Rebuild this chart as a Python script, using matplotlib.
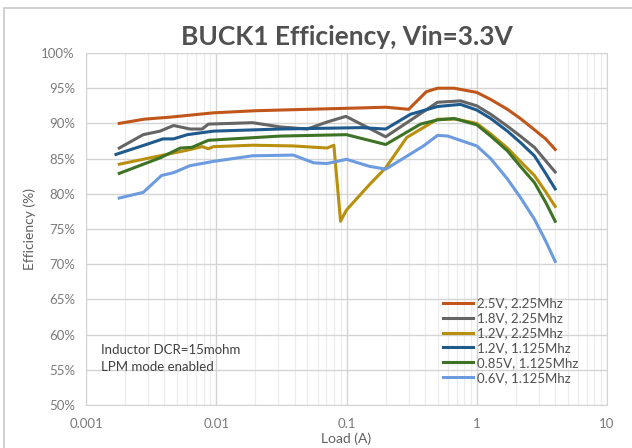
import numpy as np
import matplotlib.pyplot as plt
from matplotlib.patches import Rectangle
from matplotlib.ticker import FixedLocator, FuncFormatter, NullFormatter

plt.rcParams['font.family'] = ['Lato', 'DejaVu Sans']

# load points (A) and efficiency (%)
load_25 = [0.0018, 0.0028, 0.0045, 0.0095, 0.02, 0.05, 0.13, 0.2, 0.3, 0.41, 0.5, 0.67,
           1.0, 1.28, 1.72, 2.16, 2.77, 3.38, 4.0]
eff_25 = [90.0, 90.6, 90.9, 91.5, 91.8, 92.0, 92.2, 92.3, 92.0, 94.5, 95.0, 95.0,
          94.4, 93.4, 92.0, 90.7, 89.1, 87.8, 86.3]

load_18 = [0.0018, 0.00275, 0.0037, 0.0047, 0.0063, 0.0078, 0.0087, 0.019, 0.031, 0.05, 0.071,
           0.099, 0.2, 0.5, 0.75, 1.0, 1.28, 1.72, 2.16, 2.77, 3.38, 4.0]
eff_18 = [86.5, 88.4, 88.9, 89.7, 89.2, 89.2, 89.9, 90.1, 89.5, 89.2, 90.2,
          91.0, 88.1, 93.0, 93.2, 92.5, 91.3, 89.6, 88.2, 86.6, 84.7, 83.1]

load_12a = [0.0018, 0.0037, 0.006, 0.0078, 0.0087, 0.0095, 0.019, 0.039, 0.071, 0.08, 0.09,
            0.1, 0.15, 0.2, 0.29, 0.5, 0.7, 1.0, 1.28, 1.72, 2.16, 2.77, 3.38, 4.0]
eff_12a = [84.2, 85.4, 86.2, 86.7, 86.4, 86.7, 86.9, 86.8, 86.5, 86.9, 76.1,
           77.7, 81.3, 83.7, 88.0, 90.6, 90.6, 90.0, 88.5, 86.5, 84.6, 82.6, 80.3, 78.2]

load_12b = [0.0017, 0.0029, 0.0039, 0.0047, 0.006, 0.0095, 0.031, 0.13, 0.2, 0.31, 0.5, 0.75,
            1.0, 1.28, 1.72, 2.16, 2.77, 3.38, 4.0]
eff_12b = [85.6, 87.0, 87.8, 87.8, 88.4, 88.9, 89.2, 89.4, 89.2, 91.3, 92.4, 92.7,
           91.9, 90.7, 88.9, 87.3, 85.4, 82.9, 80.7]

load_085 = [0.0018, 0.0037, 0.0053, 0.0065, 0.0087, 0.031, 0.1, 0.2, 0.37, 0.5, 0.67,
            1.0, 1.28, 1.72, 2.16, 2.77, 3.38, 4.0]
eff_085 = [82.9, 85.1, 86.5, 86.6, 87.6, 88.2, 88.4, 87.0, 89.9, 90.5, 90.7,
           89.8, 88.2, 86.1, 83.9, 81.6, 78.8, 76.1]

load_06 = [0.0018, 0.00275, 0.0038, 0.0047, 0.0063, 0.0095, 0.019, 0.039, 0.056, 0.071, 0.1,
           0.15, 0.2, 0.39, 0.5, 0.6, 1.0, 1.28, 1.72, 2.16, 2.77, 3.38, 4.0]
eff_06 = [79.4, 80.2, 82.6, 83.0, 84.0, 84.6, 85.4, 85.5, 84.4, 84.3, 84.9,
          83.9, 83.5, 86.8, 88.3, 88.2, 86.8, 85.0, 82.1, 79.5, 76.4, 73.3, 70.4]

series = [
    ('2.5V, 2.25Mhz', load_25, eff_25, '#C0561A'),
    ('1.8V, 2.25Mhz', load_18, eff_18, '#656565'),
    ('1.2V, 2.25Mhz', load_12a, eff_12a, '#B8900E'),
    ('1.2V, 1.125Mhz', load_12b, eff_12b, '#1F5A8C'),
    ('0.85V, 1.125Mhz', load_085, eff_085, '#3D7325'),
    ('0.6V, 1.125Mhz', load_06, eff_06, '#6C9BE0'),
]

fig = plt.figure(figsize=(6.32, 4.48), dpi=100)
fig.patches.append(Rectangle((4 / 632, -0.1), 1.0, 1 - 8 / 448 + 0.1, transform=fig.transFigure,
                             fill=False, edgecolor='#c8c8c8', linewidth=1.2))
ax = fig.add_axes([86 / 632, 1 - 405 / 448, (607 - 86) / 632, (405 - 53) / 448])

for name, x, y, c in series:
    ax.plot(x, y, color=c, linewidth=2.2, label=name, solid_joinstyle='round')

ax.set_xscale('log')
ax.set_xlim(0.001, 10)
ax.set_ylim(50, 100)
ax.set_yticks(np.arange(50, 101, 5))
ax.yaxis.set_major_formatter(FuncFormatter(lambda v, p: f'{v:.0f}%'))
ax.xaxis.set_major_locator(FixedLocator([0.001, 0.01, 0.1, 1, 10]))
ax.xaxis.set_major_formatter(FuncFormatter(lambda v, p: f'{v:g}'))
ax.xaxis.set_minor_formatter(NullFormatter())

ax.grid(True, which='major', color='#d4d4d4', linewidth=1.0)
ax.grid(True, which='minor', axis='x', color='#ececec', linewidth=0.9)
ax.set_axisbelow(True)
for s in ax.spines.values():
    s.set_color('#d4d4d4')
ax.tick_params(which='both', length=0, colors='#7a7a7a', labelsize=9.5)
ax.tick_params(axis='x', pad=9)
ax.tick_params(axis='y', pad=8)

ax.set_title('BUCK1 Efficiency, Vin=3.3V', fontsize=19, fontweight='bold', color='#505050', pad=6)
ax.set_xlabel('Load (A)', fontsize=10, color='#606060', labelpad=2)
ax.set_ylabel('Efficiency (%)', fontsize=10, color='#606060', labelpad=4)

ax.text(0.0013, 54.6, 'Inductor DCR=15mohm\nLPM mode enabled', fontsize=9.5, color='#404040',
        linespacing=1.45, va='bottom')

ax.legend(loc='lower right', bbox_to_anchor=(0.955, 0.045), frameon=False, fontsize=9.5,
          handlelength=2.3, handletextpad=0.3, labelspacing=0.22, labelcolor='#505050',
          borderaxespad=0)

fig.savefig('out.png', dpi=100)
